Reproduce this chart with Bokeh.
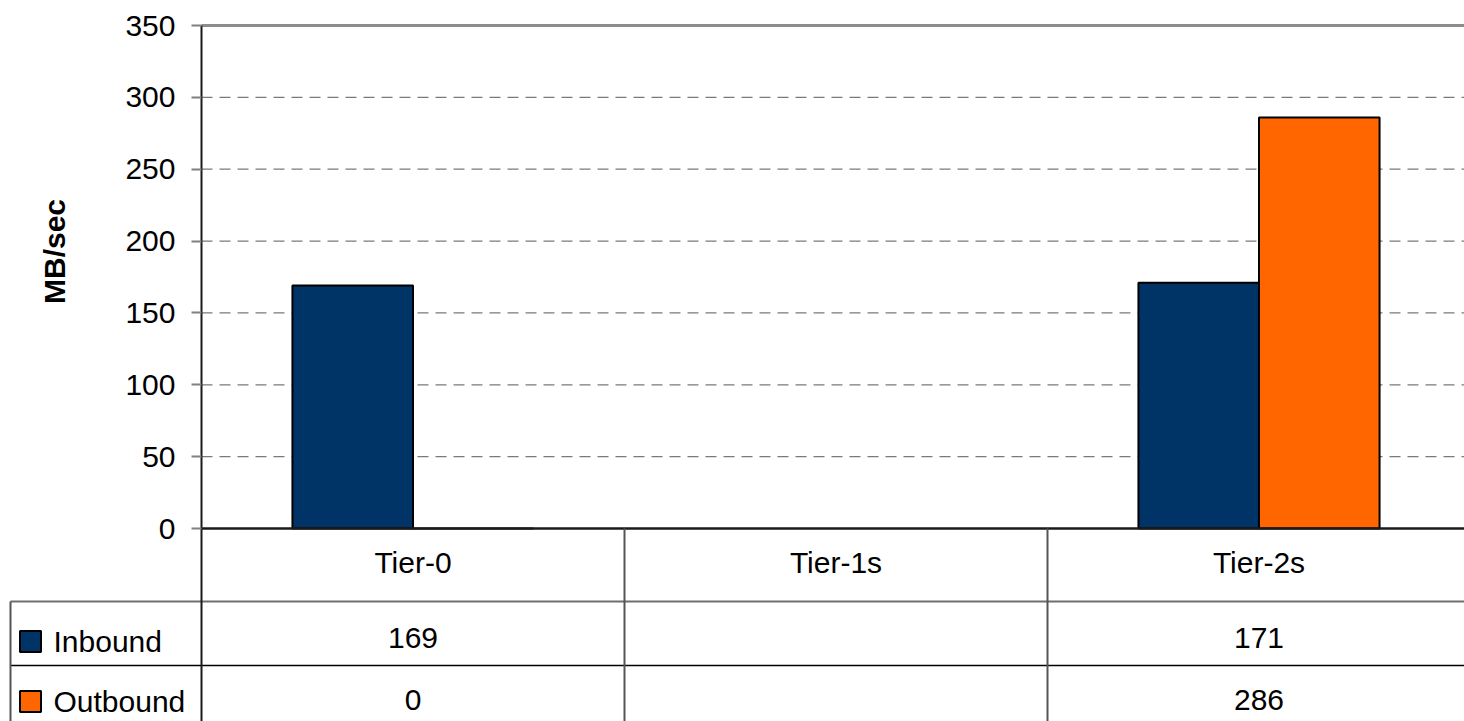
from bokeh.plotting import figure
from bokeh.models import Range1d, FixedTicker, LinearAxis, ColumnDataSource
from bokeh.embed import file_html
from bokeh.resources import INLINE
from bokeh.core.properties import value

# ---------------- data ----------------
categories = ["Tier-0", "Tier-1s", "Tier-2s"]
series_names = ["Inbound", "Outbound"]
inbound = [169, None, 171]
outbound = [0, None, 286]
y_ticks = [0, 50, 100, 150, 200, 250, 300, 350]
y_label = "MB/sec"
colors = ["#003366", "#FF6600"]

# ---------------- layout constants (pixels of the screenshot) ----------------
W, H = 1464, 721
AX_X, CAT_W = 201, 423
Y0_PX, YTOP_PX = 528, 25
FONT = "Liberation Sans"


def xd(px):
    return (px - AX_X) / CAT_W


def yd(px):
    return (Y0_PX - px) * (y_ticks[-1] - y_ticks[0]) / (Y0_PX - YTOP_PX)


p = figure(width=W, height=H,
           x_range=Range1d(xd(0), xd(W)), y_range=Range1d(yd(H), yd(0)),
           output_backend="svg", toolbar_location=None,
           x_axis_location=None, y_axis_location=None,
           min_border_left=0, min_border_right=0, min_border_top=0, min_border_bottom=0)
p.outline_line_color = None
p.background_fill_color = "white"
p.border_fill_color = "white"
p.grid.grid_line_color = None

# grid lines
n = len(categories)
x_end = xd(1470)
mid = y_ticks[1:-1]
p.segment(x0=[0] * len(mid), x1=[x_end] * len(mid), y0=mid, y1=mid,
          line_color="#7a7a7a", line_width=1.3, line_dash="11 7")
p.segment(x0=[0], x1=[x_end], y0=[y_ticks[-1]], y1=[y_ticks[-1]],
          line_color="#8c8c8c", line_width=3)

# bars
idx = list(range(n))
bw = 0.285
src = ColumnDataSource(dict(
    xi=[i + 0.5 - bw / 2 for i in idx],
    xo=[i + 0.5 + bw / 2 for i in idx],
    inb=[v if v is not None else float("nan") for v in inbound],
    outb=[v if v is not None else float("nan") for v in outbound],
))
p.vbar(x="xi", top="inb", bottom=0, width=bw, source=src,
       fill_color=colors[0], line_color="black", line_width=2)
p.vbar(x="xo", top="outb", bottom=0, width=bw, source=src,
       fill_color=colors[1], line_color="black", line_width=2)

# baseline at 0
p.segment(x0=[0], x1=[x_end], y0=[0], y1=[0], line_color="#1a1a1a", line_width=2.5)

# data table lines
p.segment(x0=[xd(10)], x1=[x_end], y0=[yd(601)], y1=[yd(601)], line_color="#6e6e6e", line_width=2)
p.segment(x0=[xd(10)], x1=[x_end], y0=[yd(665)], y1=[yd(665)], line_color="black", line_width=1.5)
vx = [float(i) for i in range(1, n)]
p.segment(x0=vx, x1=vx, y0=[0] * len(vx), y1=[yd(730)] * len(vx), line_color="#555555", line_width=2)
p.segment(x0=[xd(10)], x1=[xd(10)], y0=[yd(601)], y1=[yd(730)], line_color="#555555", line_width=2)


# table texts
def fmt(v):
    return "" if v is None else str(v)


txt = dict(text_font=value(FONT), text_font_size="30px", text_baseline="middle", text_color="black")
p.text(x=[i + 0.5 for i in idx], y=[yd(562)] * n, text=categories, text_align="center", **txt)
p.text(x=[i + 0.5 for i in idx], y=[yd(637)] * n, text=[fmt(v) for v in inbound], text_align="center", **txt)
p.text(x=[i + 0.5 for i in idx], y=[yd(699)] * n, text=[fmt(v) for v in outbound], text_align="center", **txt)

# legend keys in table
p.scatter(x=[xd(30)] * 2, y=[yd(641), yd(701)], marker="square", size=21,
          fill_color=colors, line_color="black", line_width=2)
p.text(x=[xd(53)] * 2, y=[yd(641), yd(701)], text=series_names, text_align="left", **txt)

# y axis title
p.text(x=[xd(54)], y=[yd(251)], text=[y_label], angle=90, angle_units="deg",
       text_font=value(FONT), text_font_size="30px", text_font_style="bold",
       text_align="center", text_baseline="middle", text_color="black")

# y axis at x=0
yaxis = LinearAxis(fixed_location=0, ticker=FixedTicker(ticks=y_ticks),
                   bounds=(yd(730), y_ticks[-1]))
yaxis.axis_line_color = "#1a1a1a"
yaxis.axis_line_width = 2
yaxis.major_tick_line_color = "#808080"
yaxis.major_tick_line_width = 2
yaxis.major_tick_out = 10
yaxis.major_tick_in = 0
yaxis.minor_tick_line_color = None
yaxis.major_label_text_font = FONT
yaxis.major_label_text_font_size = "30px"
yaxis.major_label_text_color = "black"
yaxis.major_label_standoff = 16
p.add_layout(yaxis, "left")

open("out.html", "w").write(file_html(p, INLINE))
